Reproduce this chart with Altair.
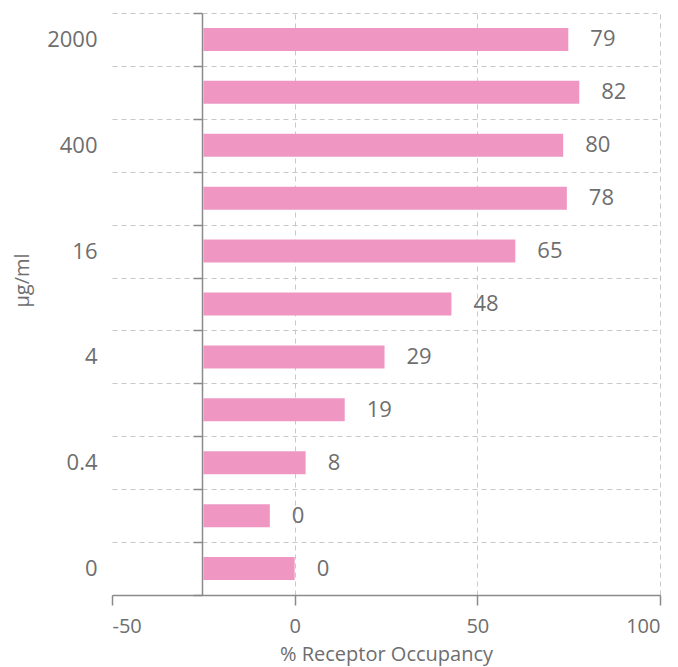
import altair as alt
import pandas as pd

# Data
rows = list(range(11))
tick_labels = ["2000", "", "400", "", "16", "", "4", "", "0.4", "", "0"]
bar_values = [74.9, 77.9, 73.5, 74.5, 60.4, 42.9, 24.6, 13.7, 3.0, -6.8, 0.0]
value_labels = ["79", "82", "80", "78", "65", "48", "29", "19", "8", "0", "0"]
BASELINE = -25
x_ticks = [-50, 0, 50, 100]

df = pd.DataFrame({"row": rows, "value": bar_values, "label": value_labels})

FONT = "Open Sans"
TXT = "#6e6e6e"
label_expr = "[" + ",".join("'" + t + "'" for t in tick_labels) + "][datum.value]"

y_enc = alt.Y(
    "row:O",
    sort=rows,
    scale=alt.Scale(paddingInner=0, paddingOuter=0),
    axis=alt.Axis(
        title="μg/ml",
        labelExpr=label_expr,
        tickBand="extent",
        offset=-90,
        tickSize=9,
        tickColor="#8a8a8a",
        tickWidth=1.5,
        domainColor="#8a8a8a",
        domainWidth=1.5,
        labelPadding=96,
        labelFontSize=22,
        labelColor=TXT,
        labelFont=FONT,
        titleFont=FONT,
        titleFontSize=20,
        titleFontWeight="normal",
        titleColor=TXT,
        titleX=-170,
        titleY=267,
        grid=True,
        gridColor="#c8c8c8",
        gridDash=[5, 4],
        gridWidth=1,
    ),
)

x_scale = alt.Scale(domain=[-50, 100], nice=False)
x_axis = alt.Axis(
    title="% Receptor Occupancy",
    values=x_ticks,
    labelExpr="'' + datum.value",
    tickSize=10,
    tickColor="#8a8a8a",
    tickWidth=1.5,
    domainColor="#8a8a8a",
    domainWidth=1.5,
    labelFontSize=20,
    labelColor=TXT,
    labelFont=FONT,
    labelPadding=11,
    titleFont=FONT,
    titleFontSize=20,
    titleFontWeight="normal",
    titleColor=TXT,
    titlePadding=8,
    grid=True,
    gridColor="#c8c8c8",
    gridDash=[5, 4],
    gridWidth=1,
    gridOpacity={"condition": {"test": "datum.value === -50", "value": 0}, "value": 1},
)

bars = alt.Chart(df).mark_bar(color="#ef97c2", size=23).encode(
    y=y_enc,
    x=alt.X("value:Q", scale=x_scale, axis=x_axis),
    x2=alt.datum(BASELINE),
)

texts = alt.Chart(df).mark_text(
    align="left", baseline="middle", dx=22, fontSize=22, font=FONT, color=TXT
).encode(
    y=alt.Y("row:O", sort=rows),
    x=alt.X("value:Q", scale=x_scale),
    text="label:N",
)

chart = (
    alt.layer(bars, texts)
    .properties(
        width=548,
        height=582,
        autosize=alt.AutoSizeParams(type="none"),
        padding={"left": 104, "top": 5, "right": 10, "bottom": 74},
    )
    .configure_view(stroke=None)
)

chart.save("out.html", embed_options={"renderer": "svg", "actions": False})
